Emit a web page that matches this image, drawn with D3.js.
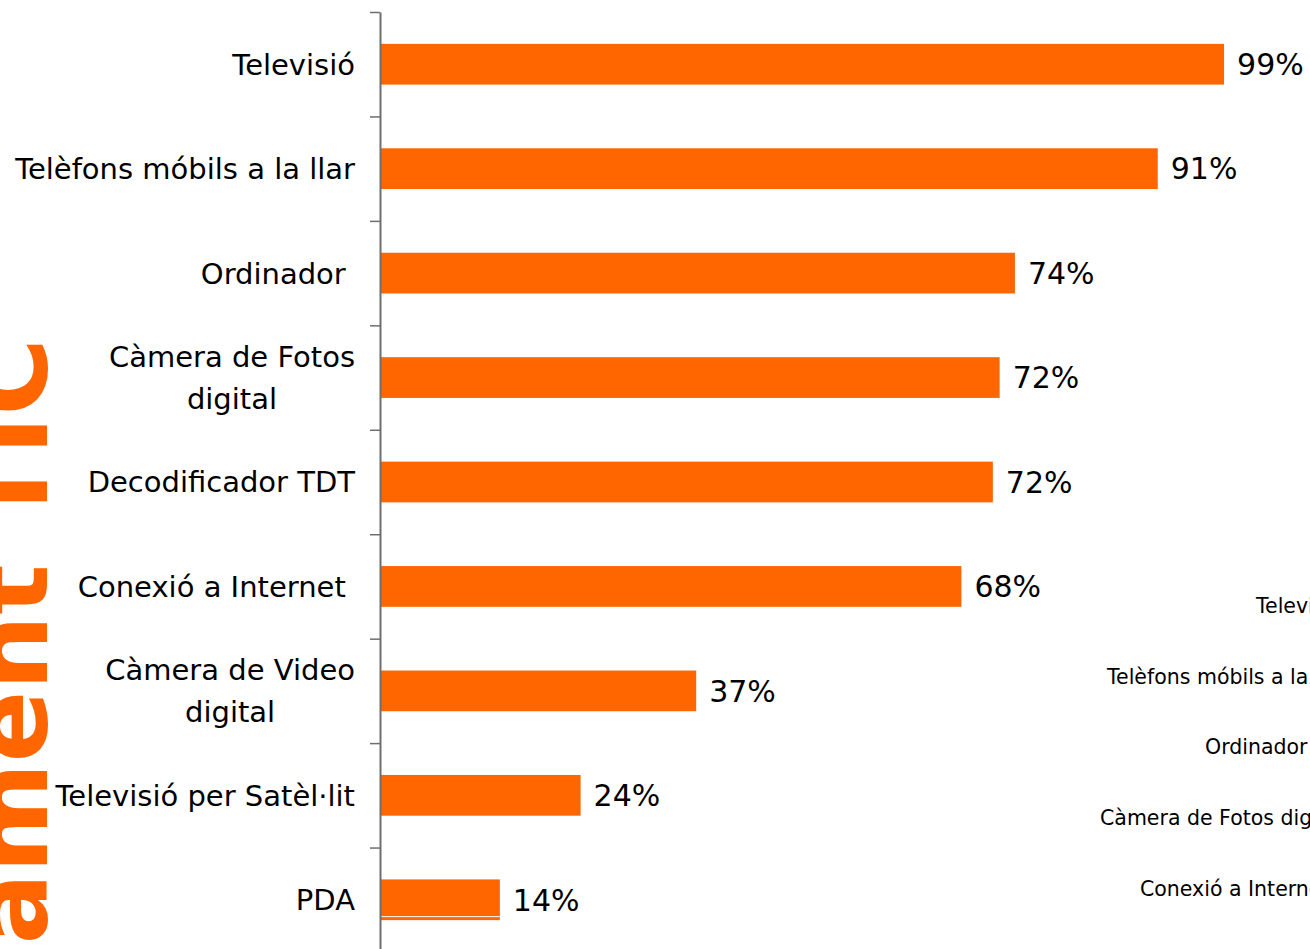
<!DOCTYPE html>
<html>
<head>
<meta charset="utf-8">
<script src="https://cdn.jsdelivr.net/npm/d3@7"></script>
<style>
  html, body { margin: 0; padding: 0; background: #ffffff; overflow: hidden; }
  svg { display: block; }
  text { white-space: pre; }
</style>
</head>
<body>
<svg id="chart" width="1310" height="949"></svg>
<script>
// ---- data ----
const categories = ["Televisió", "Telèfons móbils a la llar", "Ordinador ", "Càmera de Fotos digital",
  "Decodificador TDT", "Conexió a Internet ", "Càmera de Video digital", "Televisió per Satèl·lit", "PDA"];
const labelLines = [["Televisió"], ["Telèfons móbils a la llar"], ["Ordinador "], ["Càmera de Fotos", "digital"],
  ["Decodificador TDT"], ["Conexió a Internet "], ["Càmera de Video", "digital"], ["Televisió per Satèl·lit"], ["PDA"]];
const values = [99.3, 91.5, 74.7, 72.9, 72.1, 68.4, 37.2, 23.6, 14.1];
const valueLabels = ["99%", "91%", "74%", "72%", "72%", "68%", "37%", "24%", "14%"];
const sideTitle = "Equipament TIC";
// labels of a neighbouring chart, cut off at the right edge
const ghostLabels = ["Televisió", "Telèfons móbils a la llar", "Ordinador ", "Càmera de Fotos digital", "Conexió a Internet "];
const ghostStartX = [1256, 1107, 1205, 1100, 1140];

// ---- layout ----
const svg = d3.select("#chart");
const orange = "#FF6600";
const axisX = 380, plotTop = 12, plotBottom = 952;

const x = d3.scaleLinear().domain([0, 100]).range([axisX, 1230]);
const y = d3.scaleBand().domain(categories).range([plotTop, plotBottom]).paddingInner(0.61).paddingOuter(0.305);
const tickScale = d3.scaleLinear().domain([0, categories.length]).range([plotTop, plotBottom]);

// big rotated title on the left
svg.append("text")
  .attr("transform", "translate(47,338) rotate(-90)")
  .attr("text-anchor", "end")
  .attr("font-family", "DejaVu Sans")
  .attr("font-weight", "bold")
  .attr("font-size", 106)
  .attr("fill", orange)
  .text(sideTitle);

// bars
svg.append("g").selectAll("rect")
  .data(categories)
  .join("rect")
  .attr("x", x(0) + 1)
  .attr("y", d => y(d))
  .attr("width", (d, i) => x(values[i]) - x(0) - 1)
  .attr("height", y.bandwidth())
  .attr("fill", orange);

// thin white seam seen inside the last bar
const last = categories[categories.length - 1];
svg.append("line")
  .attr("x1", x(0) + 1).attr("x2", x(values[values.length - 1]))
  .attr("y1", y(last) + y.bandwidth() - 3.5).attr("y2", y(last) + y.bandwidth() - 3.5)
  .attr("stroke", "#ffffff").attr("stroke-width", 1);

// axis
const axis = d3.axisLeft(tickScale)
  .tickValues(d3.range(0, categories.length + 1))
  .tickFormat("")
  .tickSize(10)
  .tickSizeOuter(0);
const gAxis = svg.append("g").attr("transform", `translate(${axisX},0)`).call(axis);
gAxis.select(".domain").attr("stroke", "#6e6e6e").attr("stroke-width", 2);
gAxis.selectAll(".tick line").attr("stroke", "#6e6e6e").attr("stroke-width", 1.5);

// category labels
const labelRight = 355;
const lineH = 42;
const gLab = svg.append("g")
  .attr("font-family", "DejaVu Sans")
  .attr("font-size", 29)
  .attr("fill", "#000");
categories.forEach((c, i) => {
  const lines = labelLines[i];
  const cy = y(c) + y.bandwidth() / 2;
  const widths = lines.map(l => {
    const tmp = gLab.append("text").text(l);
    const w = tmp.node().getComputedTextLength();
    tmp.remove();
    return w;
  });
  const bw = d3.max(widths);
  const cx = labelRight - bw / 2;
  const t = gLab.append("text").attr("text-anchor", "middle");
  lines.forEach((l, k) => {
    t.append("tspan")
      .attr("x", cx)
      .attr("y", cy + (k - (lines.length - 1) / 2) * lineH)
      .attr("dy", "0.36em")
      .text(l);
  });
});

// value labels
svg.append("g")
  .attr("font-family", "DejaVu Sans")
  .attr("font-size", 30)
  .attr("fill", "#000")
  .selectAll("text")
  .data(categories)
  .join("text")
  .attr("x", (d, i) => x(values[i]) + 13)
  .attr("y", d => y(d) + y.bandwidth() / 2)
  .attr("dy", "0.36em")
  .text((d, i) => valueLabels[i]);

// neighbouring chart labels (cut off at the right edge, as in the reference)
svg.append("g")
  .attr("font-family", "DejaVu Sans")
  .attr("font-size", 20.5)
  .attr("fill", "#000")
  .selectAll("text")
  .data(ghostLabels)
  .join("text")
  .attr("x", (d, i) => ghostStartX[i])
  .attr("y", (d, i) => 613 + i * 70.7)
  .text(d => d);
</script>
</body>
</html>
